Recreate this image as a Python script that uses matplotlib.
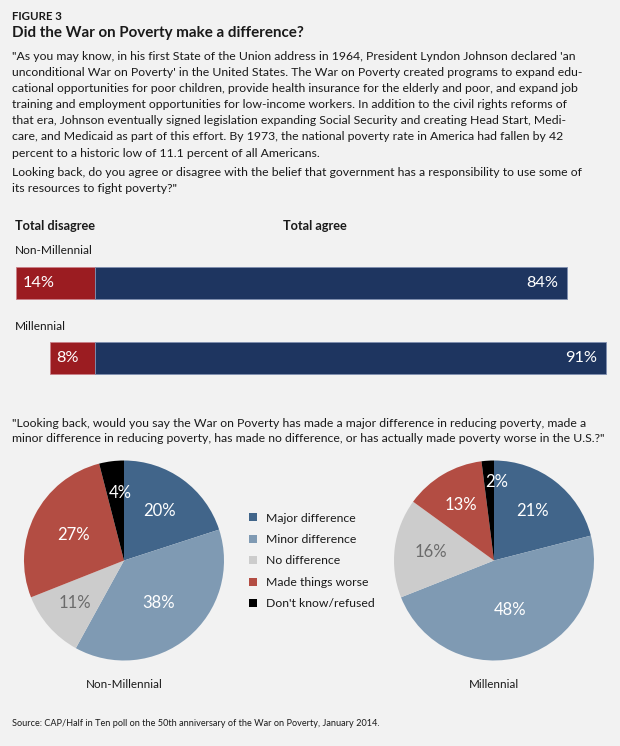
import math
import matplotlib
matplotlib.use("Agg")
import matplotlib.pyplot as plt
from matplotlib.patches import Patch

# ---------------- data ----------------
bar_groups = ["Non-Millennial", "Millennial"]
disagree = [14, 8]
agree = [84, 91]

pie_categories = ["Major difference", "Minor difference", "No difference",
                  "Made things worse", "Don't know/refused"]
pie_groups = ["Non-Millennial", "Millennial"]
non_millennial = [20, 38, 11, 27, 4]
millennial = [21, 48, 16, 13, 2]

figure_label = "FIGURE 3"
title = "Did the War on Poverty make a difference?"
para_lines = [
    "\"As you may know, in his first State of the Union address in 1964, President Lyndon Johnson declared 'an",
    "unconditional War on Poverty' in the United States. The War on Poverty created programs to expand edu-",
    "cational opportunities for poor children, provide health insurance for the elderly and poor, and expand job",
    "training and employment opportunities for low-income workers. In addition to the civil rights reforms of",
    "that era, Johnson eventually signed legislation expanding Social Security and creating Head Start, Medi-",
    "care, and Medicaid as part of this effort. By 1973, the national poverty rate in America had fallen by 42",
    "percent to a historic low of 11.1 percent of all Americans.",
]
q1_lines = [
    "Looking back, do you agree or disagree with the belief that government has a responsibility to use some of",
    "its resources to fight poverty?\"",
]
q2_lines = [
    "\"Looking back, would you say the War on Poverty has made a major difference in reducing poverty, made a",
    "minor difference in reducing poverty, has made no difference, or has actually made poverty worse in the U.S.?\"",
]
source = "Source: CAP/Half in Ten poll on the 50th anniversary of the War on Poverty, January 2014."

# ---------------- style ----------------
W, H, DPI = 620, 746, 100
BG = "#f2f2f2"
TXT = "#1a1a1a"
RED = "#9b1c21"
NAVY = "#1e3560"
PIE_COLORS = ["#41658a", "#7f9ab3", "#cccccc", "#b34d43", "#000000"]
PIE_TXT = ["white", "white", "#6b6b6b", "white", "white"]
FONT = "Lato"

plt.rcParams["font.family"] = [FONT, "DejaVu Sans"]

fig = plt.figure(figsize=(W / DPI, H / DPI), dpi=DPI, facecolor=BG)


def fx(x):
    return x / W


def fy(y):
    return 1 - y / H


def rect(x0, y0, w, h):
    return [fx(x0), fy(y0 + h), w / W, h / H]


# ---------------- header text ----------------
fig.text(fx(12), fy(16.5), figure_label, fontsize=8.3, fontweight="bold",
         color=TXT, va="center", ha="left")
fig.text(fx(12), fy(33.5), title, fontsize=10.9, fontweight="bold",
         color=TXT, va="center", ha="left")

BODY = 8.85
pitch = 16.2
for i, line in enumerate(para_lines):
    fig.text(fx(12), fy(56 + i * pitch), line, fontsize=BODY, color=TXT,
             va="center", ha="left")
for i, line in enumerate(q1_lines):
    fig.text(fx(12), fy(172.5 + i * pitch), line, fontsize=BODY, color=TXT,
             va="center", ha="left")
for i, line in enumerate(q2_lines):
    fig.text(fx(12), fy(423 + i * 15.5), line, fontsize=BODY, color=TXT,
             va="center", ha="left")

fig.text(fx(15), fy(226.5), "Total disagree", fontsize=9.2, fontweight="bold",
         color=TXT, va="center", ha="left")
fig.text(fx(283), fy(226.5), "Total agree", fontsize=9.2, fontweight="bold",
         color=TXT, va="center", ha="left")

fig.text(fx(11.5), fy(723.5), source, fontsize=6.6, color=TXT,
         va="center", ha="left")

# ---------------- diverging bars ----------------
px_per_pct = 5.62
zero_px = 95
axb = fig.add_axes(rect(0, 240, W, 150))
axb.set_facecolor("none")
axb.set_xlim(-zero_px / px_per_pct, (W - zero_px) / px_per_pct)
top_margin = (283 - 240) / 75
bot_margin = (390 - 358) / 75
axb.set_ylim(len(bar_groups) - 1 + bot_margin, -top_margin)
bar_h = 32 / 75
ypos = list(range(len(bar_groups)))
axb.barh(ypos, [-d for d in disagree], height=bar_h, color=RED,
         edgecolor="#c98088", linewidth=0.6)
axb.barh(ypos, agree, height=bar_h, color=NAVY,
         edgecolor="#7f8fb0", linewidth=0.6)
for i, g in enumerate(bar_groups):
    axb.annotate(f"{disagree[i]}%", xy=(-disagree[i], i), xytext=(6, 0),
                 textcoords="offset pixels", va="center", ha="left",
                 fontsize=11.8, color="white")
    axb.annotate(f"{agree[i]}%", xy=(agree[i], i), xytext=(-9, 0),
                 textcoords="offset pixels", va="center", ha="right",
                 fontsize=11.8, color="white")
    axb.annotate(g, xy=(0, i), xycoords=("axes fraction", "data"),
                 xytext=(15, 32), textcoords="offset pixels",
                 va="center", ha="left", fontsize=8.6, color=TXT)
axb.axis("off")

# ---------------- pies ----------------
label_dist = {
    "Non-Millennial": [0.61, 0.55, 0.65, 0.57, 0.68],
    "Millennial": [0.63, 0.52, 0.64, 0.65, 0.79],
}
label_dx = {
    "Non-Millennial": [0, 0, 0, 0, 0.05],
    "Millennial": [0, 0, 0, 0, 0.08],
}
pie_centers = {"Non-Millennial": (124, 560.5), "Millennial": (494, 560.5)}
R = 100

handles = [Patch(facecolor=c, edgecolor="none") for c in PIE_COLORS]
for name, vals in zip(pie_groups, [non_millennial, millennial]):
    cx, cy = pie_centers[name]
    ax = fig.add_axes(rect(cx - R, cy - R, 2 * R, 2 * R))
    ax.set_facecolor("none")
    wedges, _ = ax.pie(vals, colors=PIE_COLORS, startangle=90,
                       counterclock=False, radius=1,
                       wedgeprops=dict(linewidth=0))
    ax.set_xlim(-1, 1)
    ax.set_ylim(-1, 1)
    ax.set_aspect("equal")
    for k, (w, v) in enumerate(zip(wedges, vals)):
        ang = math.radians((w.theta1 + w.theta2) / 2)
        d = label_dist[name][k]
        ax.text(d * math.cos(ang) + label_dx[name][k], d * math.sin(ang),
                f"{v}%", ha="center", va="center", fontsize=12,
                color=PIE_TXT[k])
    ax.text(0, -1.245, name, ha="center", va="center", fontsize=8.4,
            color=TXT, clip_on=False)

fig.legend(handles, pie_categories, loc="center left",
           bbox_to_anchor=(fx(249), fy(561)), frameon=False,
           fontsize=8.8, handlelength=0.62, handleheight=0.62,
           handletextpad=0.75, labelspacing=0.85, borderpad=0,
           borderaxespad=0, labelcolor=TXT)

fig.savefig("out.png", dpi=DPI, facecolor=BG)
